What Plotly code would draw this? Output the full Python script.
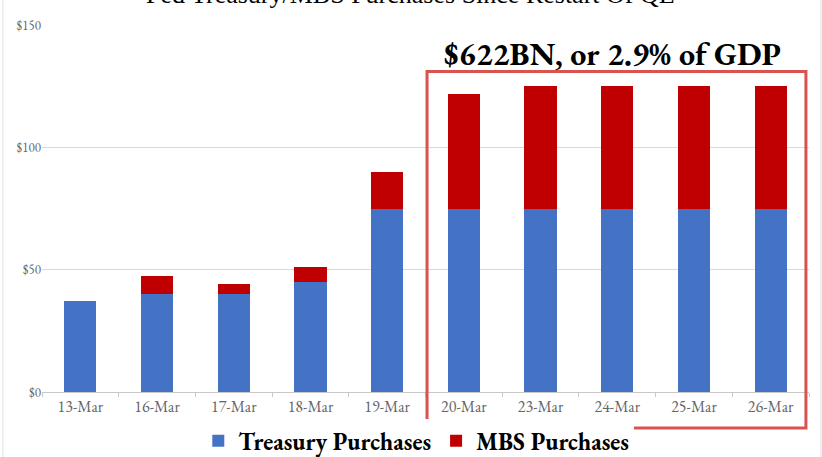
import plotly.graph_objects as go

dates = ["13-Mar", "16-Mar", "17-Mar", "18-Mar", "19-Mar",
         "20-Mar", "23-Mar", "24-Mar", "25-Mar", "26-Mar"]
treasury = [37, 40, 40, 45, 75, 75, 75, 75, 75, 75]
mbs = [0, 7.5, 4, 6, 15, 47, 50, 50, 50, 50]
y_ticks = [0, 50, 100, 150]
y_labels = ["$0", "$50", "$100", "$150"]

serif = "Garamond, 'EB Garamond', 'Liberation Serif', 'DejaVu Serif', serif"
times = "'Liberation Serif', 'DejaVu Serif', serif"

fig = go.Figure()
fig.add_trace(go.Bar(x=dates, y=treasury, name="Treasury Purchases",
                     marker=dict(color="#4472C4", line=dict(width=0))))
fig.add_trace(go.Bar(x=dates, y=mbs, name="MBS Purchases",
                     marker=dict(color="#C00000", line=dict(width=0))))

fig.update_layout(
    barmode="stack",
    bargap=0.58,
    width=822, height=457,
    margin=dict(l=42, r=13, t=24.5, b=65, autoexpand=False),
    paper_bgcolor="white", plot_bgcolor="white",
    font=dict(family=serif),
    showlegend=True,
    legend=dict(orientation="h", x=0.488, xanchor="center", y=-0.134, yanchor="middle",
                font=dict(family=serif, size=24, color="black", weight="bold"),
                traceorder="normal", itemwidth=30),
    xaxis=dict(type="category", showgrid=False, showline=True, linecolor="#c8c8c8",
               ticks="outside", tickson="boundaries", ticklen=4, tickcolor="#c8c8c8",
               tickfont=dict(family=serif, size=16, color="#666666")),
    yaxis=dict(range=[0, 150], tickvals=y_ticks, ticktext=y_labels,
               showgrid=True, gridcolor="#d9d9d9", gridwidth=1, zeroline=False,
               showline=False, ticks="",
               tickfont=dict(family=serif, size=13, color="#666666")),
)

fig.add_annotation(text="Fed Treasury/MBS Purchases Since Restart Of QE",
                   xref="paper", yref="paper", x=0.48, y=1.037,
                   xanchor="center", yanchor="bottom", showarrow=False,
                   font=dict(family=times, size=26, color="black"))

fig.add_annotation(text="<b>$622BN, or 2.9% of GDP</b>",
                   xref="paper", yref="paper", x=0.744, y=0.922,
                   xanchor="center", yanchor="middle", showarrow=False,
                   font=dict(family=serif, size=32, color="black"))

fig.add_shape(type="rect", xref="paper", yref="paper",
              x0=0.502, x1=0.996, y0=-0.098, y1=0.873,
              line=dict(color="#D9534F", width=3), fillcolor="rgba(0,0,0,0)")

# outer chart frame
fig.add_shape(type="line", xref="paper", yref="paper", x0=-0.051, x1=-0.051, y0=-0.18, y1=1.07,
              line=dict(color="#e0e0e0", width=1))
fig.add_shape(type="line", xref="paper", yref="paper", x0=1.0156, x1=1.0156, y0=-0.18, y1=1.07,
              line=dict(color="#e0e0e0", width=1))

fig.write_html("out.html", config={"displayModeBar": False},
               post_script="document.body.style.margin='0';document.body.style.overflow='hidden';")
